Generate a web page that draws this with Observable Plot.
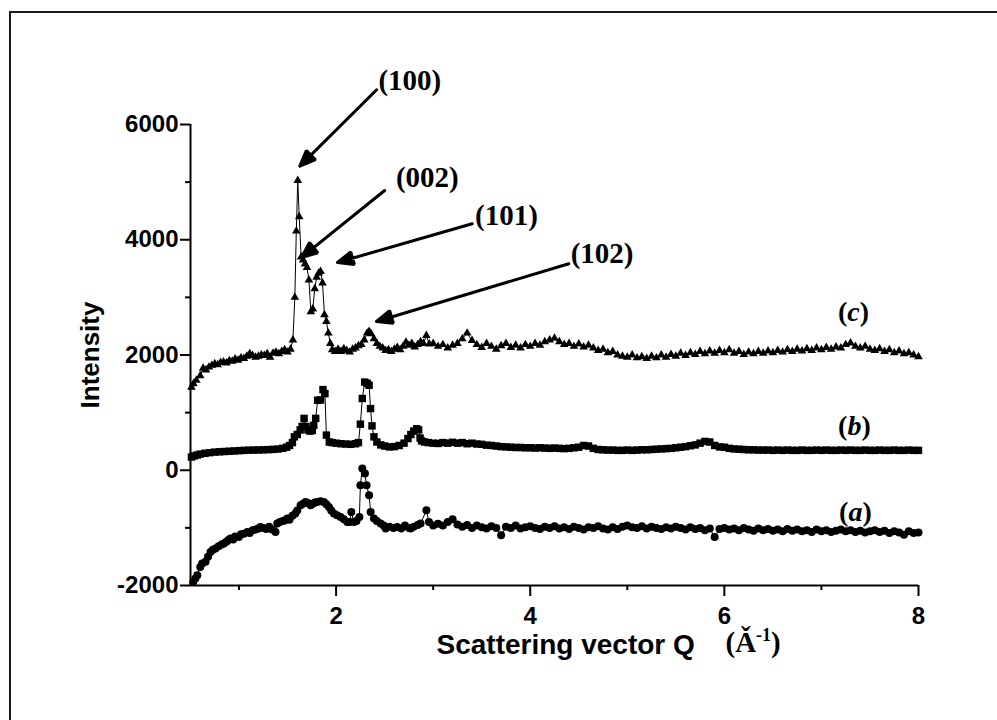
<!DOCTYPE html>
<html>
<head>
<meta charset="utf-8">
<script src="https://cdn.jsdelivr.net/npm/d3@7"></script>
<script src="https://cdn.jsdelivr.net/npm/@observablehq/plot@0.6"></script>
<style>
  html, body { margin: 0; padding: 0; background: #fff; }
  #wrap { position: relative; width: 997px; height: 720px; overflow: hidden; }
  #border { position: absolute; left: 9px; top: 11px; width: 1000px; height: 730px; border: 2px solid #1a1a1a; box-sizing: border-box; }
  #chart { position: absolute; left: 0; top: 0; }
</style>
</head>
<body>
<div id="wrap"><div id="border"></div><div id="chart"></div></div>
<script>
// ---- Data ----
const xTicks = [2, 4, 6, 8];
const xMinorTicks = [1, 3, 5, 7];
const yTicks = [-2000, 0, 2000, 4000, 6000];
const yMinorTicks = [-1000, 1000, 3000, 5000];

// (c) triangles
const seriesC = [
  [0.51,1440],[0.53,1500],[0.56,1560],[0.60,1640],[0.63,1770],[0.66,1740],[0.69,1790],[0.72,1820],[0.75,1850],[0.78,1830],
  [0.81,1870],[0.84,1880],[0.87,1860],[0.90,1900],[0.93,1890],[0.96,1930],[0.99,1910],[1.02,1950],[1.05,1940],[1.08,1980],
  [1.11,2020],[1.14,1990],[1.17,1960],[1.20,1980],[1.23,2000],[1.26,1990],[1.29,2020],[1.32,1960],[1.35,2030],[1.38,2050],
  [1.41,2020],[1.44,2060],[1.47,2090],[1.50,2050],[1.53,2100],[1.555,2260],[1.575,3000],[1.59,4150],[1.605,5030],[1.62,4400],
  [1.64,3700],[1.66,3650],[1.68,3580],[1.70,3520],[1.72,3300],[1.74,2750],[1.76,2800],[1.78,3150],[1.80,3350],[1.82,3420],
  [1.84,3450],[1.86,3250],[1.88,2700],[1.90,2580],[1.92,2380],[1.94,2200],[1.96,2090],[1.99,2060],[2.02,2100],[2.05,2060],
  [2.08,2110],[2.11,2080],[2.14,2050],[2.17,2100],[2.20,2120],[2.23,2160],[2.26,2180],[2.29,2260],[2.32,2380],[2.34,2410],
  [2.36,2370],[2.39,2280],[2.42,2200],[2.45,2150],[2.48,2120],[2.51,2080],[2.54,2090],[2.57,2060],[2.60,2100],[2.63,2130],
  [2.66,2090],[2.69,2150],[2.72,2220],[2.75,2170],[2.78,2200],[2.81,2140],[2.84,2180],[2.87,2230],[2.90,2200],[2.93,2340],
  [2.96,2190],[3.00,2200],[3.05,2150],[3.10,2180],[3.15,2120],[3.20,2170],[3.25,2200],[3.30,2280],[3.35,2380],[3.40,2250],
  [3.45,2180],[3.50,2130],[3.55,2200],[3.60,2150],[3.65,2100],[3.70,2160],[3.75,2200],[3.80,2130],[3.85,2170],[3.90,2120],
  [3.95,2180],[4.00,2150],[4.05,2200],[4.10,2170],[4.15,2230],[4.20,2260],[4.25,2290],[4.30,2230],[4.35,2180],[4.40,2200],
  [4.45,2150],[4.50,2190],[4.55,2140],[4.60,2170],[4.65,2120],[4.70,2080],[4.75,2100],[4.80,2040],[4.85,2060],[4.90,2000],
  [4.95,1980],[5.00,1960],[5.05,2000],[5.10,1950],[5.15,1970],[5.20,1940],[5.25,1980],[5.30,1950],[5.35,2000],[5.40,1960],
  [5.45,2010],[5.50,1980],[5.55,2030],[5.60,1990],[5.65,2040],[5.70,2010],[5.75,2060],[5.80,2020],[5.85,2070],[5.90,2030],
  [5.95,2080],[6.00,2040],[6.05,2090],[6.10,2030],[6.15,2060],[6.20,2010],[6.25,2050],[6.30,2020],[6.35,2060],[6.40,2030],
  [6.45,2070],[6.50,2040],[6.55,2080],[6.60,2050],[6.65,2090],[6.70,2060],[6.75,2100],[6.80,2070],[6.85,2110],[6.90,2080],
  [6.95,2120],[7.00,2090],[7.05,2130],[7.10,2100],[7.15,2140],[7.20,2120],[7.25,2180],[7.30,2210],[7.35,2150],[7.40,2120],
  [7.45,2150],[7.50,2100],[7.55,2080],[7.60,2110],[7.65,2060],[7.70,2090],[7.75,2040],[7.80,2070],[7.85,2020],[7.90,2040],
  [7.95,2000],[8.00,1970]
];

// (b) squares
const seriesB = [
  [0.51,230],[0.54,250],[0.57,265],[0.60,280],[0.65,295],[0.70,305],[0.75,315],[0.80,320],[0.85,325],[0.90,330],
  [0.95,335],[1.00,340],[1.05,345],[1.10,348],[1.15,350],[1.20,352],[1.25,355],[1.30,358],[1.35,362],[1.40,368],
  [1.45,380],[1.49,400],[1.52,430],[1.55,480],[1.57,580],[1.60,620],[1.63,700],[1.65,760],[1.67,900],[1.69,760],
  [1.71,700],[1.73,680],[1.755,690],[1.77,780],[1.79,900],[1.81,1215],[1.84,1220],[1.865,1400],[1.885,1330],[1.90,610],
  [1.93,490],[1.96,480],[2.00,470],[2.05,460],[2.10,455],[2.15,450],[2.20,460],[2.23,480],[2.25,800],[2.27,1245],
  [2.295,1530],[2.32,1510],[2.34,1475],[2.355,1070],[2.37,770],[2.39,580],[2.42,490],[2.46,440],[2.50,420],[2.55,405],
  [2.60,410],[2.65,430],[2.70,470],[2.74,550],[2.77,620],[2.80,680],[2.83,720],[2.85,700],[2.865,560],[2.88,510],
  [2.91,490],[2.95,480],[3.00,470],[3.05,465],[3.10,480],[3.15,470],[3.20,485],[3.25,470],[3.30,480],[3.35,460],
  [3.40,470],[3.45,455],[3.50,450],[3.55,435],[3.60,430],[3.65,420],[3.70,410],[3.75,405],[3.80,400],[3.85,395],
  [3.90,395],[3.95,390],[4.00,390],[4.05,385],[4.10,390],[4.15,385],[4.20,380],[4.25,385],[4.30,380],[4.35,375],
  [4.40,380],[4.45,390],[4.50,400],[4.55,430],[4.60,420],[4.65,380],[4.70,360],[4.75,355],[4.80,350],[4.85,350],
  [4.90,345],[4.95,345],[5.00,350],[5.05,345],[5.10,350],[5.15,355],[5.20,355],[5.25,360],[5.30,365],[5.35,370],
  [5.40,375],[5.45,380],[5.50,390],[5.55,400],[5.60,410],[5.65,425],[5.70,440],[5.75,470],[5.80,500],[5.85,490],
  [5.90,430],[5.95,405],[6.00,400],[6.05,380],[6.10,370],[6.15,365],[6.20,360],[6.25,355],[6.30,355],[6.35,350],
  [6.40,350],[6.45,350],[6.50,345],[6.55,350],[6.60,345],[6.65,350],[6.70,345],[6.75,345],[6.80,350],[6.85,345],
  [6.90,345],[6.95,350],[7.00,345],[7.05,350],[7.10,345],[7.15,345],[7.20,350],[7.25,345],[7.30,350],[7.35,345],
  [7.40,345],[7.45,350],[7.50,345],[7.55,345],[7.60,350],[7.65,345],[7.70,345],[7.75,350],[7.80,345],[7.85,345],
  [7.90,350],[7.95,345],[8.00,345]
];

// (a) circles
const seriesA = [
  [0.528,-1940],[0.55,-1880],[0.57,-1820],[0.60,-1680],[0.62,-1620],[0.655,-1590],[0.68,-1500],[0.706,-1420],[0.73,-1380],[0.758,-1360],
  [0.79,-1320],[0.82,-1290],[0.843,-1270],[0.87,-1240],[0.89,-1210],[0.912,-1185],[0.94,-1200],[0.96,-1150],[0.998,-1157],[1.02,-1110],
  [1.05,-1100],[1.085,-1070],[1.11,-1090],[1.14,-1040],[1.17,-1030],[1.20,-1010],[1.22,-985],[1.25,-1000],[1.28,-1020],[1.31,-980],
  [1.34,-1030],[1.376,-1070],[1.394,-925],[1.42,-900],[1.45,-880],[1.47,-870],[1.497,-838],[1.52,-860],[1.55,-790],[1.58,-751],
  [1.60,-700],[1.634,-607],[1.66,-580],[1.686,-550],[1.71,-570],[1.737,-607],[1.76,-580],[1.78,-560],[1.806,-550],[1.84,-540],
  [1.874,-550],[1.90,-590],[1.926,-636],[1.95,-700],[1.977,-751],[2.01,-780],[2.046,-810],[2.08,-850],[2.115,-897],[2.14,-900],
  [2.157,-723],[2.184,-897],[2.21,-880],[2.24,-810],[2.25,-260],[2.27,29],[2.297,-58],[2.314,-260],[2.34,-434],[2.356,-723],
  [2.39,-838],[2.42,-880],[2.459,-925],[2.49,-960],[2.51,-1012],[2.55,-980],[2.59,-1000],[2.63,-984],[2.67,-1010],[2.71,-960],
  [2.75,-1000],[2.768,-1012],[2.80,-980],[2.84,-950],[2.87,-925],[2.93,-694],[2.957,-897],[3.00,-960],[3.05,-930],[3.10,-960],
  [3.15,-900],[3.20,-850],[3.25,-940],[3.30,-980],[3.35,-950],[3.40,-1000],[3.45,-960],[3.50,-990],[3.55,-1010],[3.60,-970],
  [3.65,-1000],[3.70,-1130],[3.75,-980],[3.80,-1000],[3.85,-960],[3.90,-1010],[3.95,-990],[4.00,-970],[4.05,-1000],[4.10,-1020],
  [4.15,-980],[4.20,-1000],[4.25,-970],[4.30,-1010],[4.35,-990],[4.40,-1020],[4.45,-980],[4.50,-1000],[4.55,-1030],[4.60,-990],
  [4.65,-1000],[4.70,-970],[4.75,-1010],[4.80,-1030],[4.85,-990],[4.90,-1020],[4.95,-980],[5.00,-960],[5.05,-990],[5.10,-1000],
  [5.15,-970],[5.20,-1010],[5.25,-980],[5.30,-1000],[5.35,-1020],[5.40,-990],[5.45,-1010],[5.50,-980],[5.55,-1000],[5.60,-1030],
  [5.65,-990],[5.70,-1020],[5.75,-1000],[5.80,-1040],[5.85,-1010],[5.90,-1160],[5.95,-1020],[6.00,-1000],[6.05,-1030],[6.10,-1010],
  [6.15,-1040],[6.20,-1000],[6.25,-1030],[6.30,-1050],[6.35,-1010],[6.40,-1040],[6.45,-1020],[6.50,-1050],[6.55,-1030],[6.60,-1060],
  [6.65,-1020],[6.70,-1050],[6.75,-1030],[6.80,-1060],[6.85,-1040],[6.90,-1070],[6.95,-1030],[7.00,-1060],[7.05,-1040],[7.10,-1070],
  [7.15,-1050],[7.20,-1030],[7.25,-1060],[7.30,-1040],[7.35,-1070],[7.40,-1050],[7.45,-1080],[7.50,-1060],[7.55,-1040],[7.60,-1070],
  [7.65,-1050],[7.70,-1090],[7.75,-1060],[7.80,-1080],[7.85,-1120],[7.90,-1060],[7.95,-1090],[8.00,-1080]
];

// Peak annotations (Miller indices), in data coordinates
const peakLabels = ["(100)", "(002)", "(101)", "(102)"];
const peakLabelX = [2.76, 2.94, 3.755, 4.74];
const peakLabelY = [6764, 5080, 4421, 3762];
const arrowTailX = [2.418, 2.50, 3.402, 4.397];
const arrowTailY = [6602, 4854, 4277, 3583];
const arrowHeadX = [1.626, 1.643, 2.014, 2.416];
const arrowHeadY = [5277, 3692, 3605, 2581];

// Series labels
const seriesLabels = ["(c)", "(b)", "(a)"];
const seriesLabelX = [7.33, 7.34, 7.35];
const seriesLabelY = [2738, 759, -733];

// ---- Build tables ----
const toRows = (arr) => arr.map(([x, y]) => ({x, y}));
const rowsA = toRows(seriesA), rowsB = toRows(seriesB), rowsC = toRows(seriesC);
const peakRows = peakLabels.map((t, i) => ({t, x: peakLabelX[i], y: peakLabelY[i]}));
const arrowRows = peakLabels.map((t, i) => ({x1: arrowTailX[i], y1: arrowTailY[i], x2: arrowHeadX[i], y2: arrowHeadY[i]}));
const serRows = seriesLabels.map((t, i) => ({t, x: seriesLabelX[i], y: seriesLabelY[i]}));

const SANS = "'Liberation Sans', Arial, Helvetica, sans-serif";
const SERIF = "'Liberation Serif', 'Times New Roman', Times, serif";

const chart = Plot.plot({
  width: 997,
  height: 720,
  marginLeft: 190,
  marginRight: 79,
  marginTop: 124,
  marginBottom: 135,
  x: {domain: [0.5, 8], label: null},
  y: {domain: [-2000, 6000], label: null},
  style: {fontFamily: SANS, color: "#000", background: "transparent", overflow: "visible"},
  marks: [
    Plot.axisY(yTicks, {tickSize: 10, tickPadding: 2, strokeWidth: 2, fontSize: 24, fontWeight: "bold", label: null, tickFormat: d => String(d)}),
    Plot.axisY(yMinorTicks, {tickSize: 5, strokeWidth: 2, label: null, tickFormat: () => ""}),
    Plot.axisX(xTicks, {tickSize: 11, tickPadding: 10, strokeWidth: 2, fontSize: 24, fontWeight: "bold", label: null, tickFormat: d => String(d)}),
    Plot.axisX(xMinorTicks, {tickSize: 5, strokeWidth: 2, label: null, tickFormat: () => ""}),
    Plot.ruleX([0.5], {y1: -2000, y2: 6000, strokeWidth: 2}),
    Plot.ruleY([-2000], {x1: 0.5, x2: 8, strokeWidth: 2}),

    Plot.line(rowsA, {x: "x", y: "y", stroke: "#000", strokeWidth: 1}),
    Plot.dot(rowsA, {x: "x", y: "y", symbol: "circle", r: 4, fill: "#000", stroke: "none"}),
    Plot.line(rowsB, {x: "x", y: "y", stroke: "#000", strokeWidth: 1}),
    Plot.dot(rowsB, {x: "x", y: "y", symbol: "square", r: 4.2, fill: "#000", stroke: "none"}),
    Plot.line(rowsC, {x: "x", y: "y", stroke: "#000", strokeWidth: 1}),
    Plot.dot(rowsC, {x: "x", y: "y", symbol: "triangle", r: 3.2, fill: "#000", stroke: "none"}),

    Plot.arrow(arrowRows, {x1: "x1", y1: "y1", x2: "x2", y2: "y2", stroke: "#000", strokeWidth: 3, headAngle: 45, headLength: 8.5, ariaLabel: "peak-arrow"}),
    Plot.text(peakRows, {x: "x", y: "y", text: "t", fontFamily: SERIF, fontWeight: "bold", fontSize: 29, fill: "#000"}),
    Plot.text(serRows, {x: "x", y: "y", text: "t", fontFamily: SERIF, fontWeight: "bold", fontSize: 28, fill: "#000"}),

    Plot.text(["Intensity"], {frameAnchor: "left", dx: -100, rotate: -90, textAnchor: "middle", fontSize: 26, fontWeight: "bold", fontFamily: SANS, fill: "#000"}),
    Plot.text(["Scattering vector Q"], {frameAnchor: "bottom-left", dx: 246, dy: 68, textAnchor: "start", fontSize: 28, fontWeight: "bold", fontFamily: SANS, fill: "#000"}),
    Plot.text(["(Ǎ-1)"], {frameAnchor: "bottom-left", dx: 535, dy: 66, textAnchor: "start", fontSize: 29, fontWeight: "bold", fontFamily: SERIF, fill: "#000"})
  ]
});

// Rich-text tweaks: italic series letters, superscript unit
d3.select(chart).selectAll("text").each(function() {
  const t = this.textContent;
  const sel = d3.select(this);
  let m = t.match(/^\(([abc])\)$/);
  if (m) {
    sel.text(null);
    sel.append("tspan").text("(");
    sel.append("tspan").attr("font-style", "italic").text(m[1]);
    sel.append("tspan").text(")");
  } else if (t === "(Ǎ-1)") {
    sel.text(null);
    sel.append("tspan").text("(Ǎ");
    sel.append("tspan").attr("font-size", 18).attr("dy", -11).text("-1");
    sel.append("tspan").attr("dy", 11).text(")");
  }
});

// Filled arrowheads: close the head sub-path of each arrow and fill it
chart.querySelectorAll("path").forEach((p) => {
  const d = p.getAttribute("d") || "";
  const nM = (d.match(/M/g) || []).length;
  const g = p.closest("g");
  const isArrow = (g && /arrow/.test(g.getAttribute("aria-label") || "")) || nM === 2;
  if (isArrow && nM === 2 && !/Z\s*$/i.test(d)) {
    p.setAttribute("d", d + "Z");
    p.setAttribute("fill", "#000");
    p.style.fill = "#000";
    p.setAttribute("stroke-linejoin", "miter");
  }
});

document.getElementById("chart").appendChild(chart);
</script>
</body>
</html>
